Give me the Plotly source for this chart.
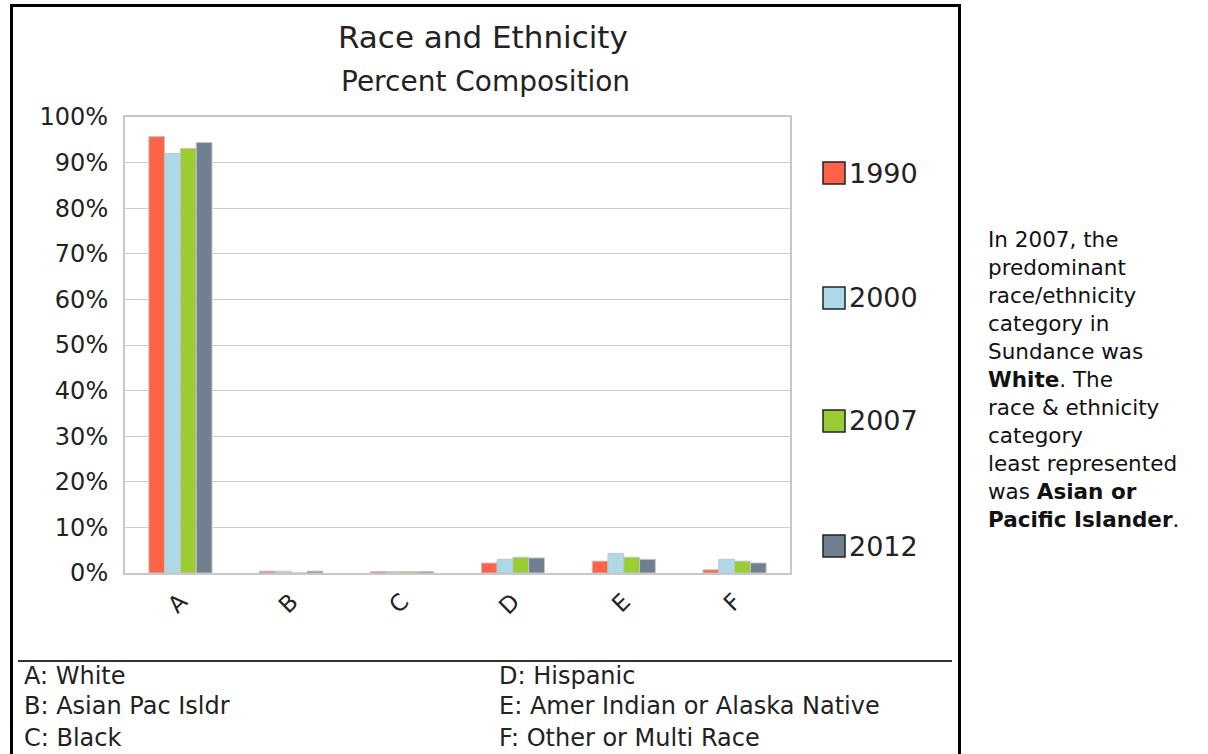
import plotly.graph_objects as go

# Category codes and their full names
categories = ["A", "B", "C", "D", "E", "F"]
category_names = [
    "White",
    "Asian Pac Isldr",
    "Black",
    "Hispanic",
    "Amer Indian or Alaska Native",
    "Other or Multi Race",
]

# Percent composition by year
years = ["1990", "2000", "2007", "2012"]
pct_1990 = [95.7, 0.4, 0.3, 2.2, 2.6, 0.7]
pct_2000 = [92.0, 0.4, 0.3, 3.0, 4.3, 3.0]
pct_2007 = [93.1, 0.0, 0.3, 3.45, 3.45, 2.6]
pct_2012 = [94.4, 0.4, 0.3, 3.3, 3.0, 2.2]
series = [pct_1990, pct_2000, pct_2007, pct_2012]
colors = ["#FF6347", "#ADD8E6", "#9ACD32", "#708090"]

y_ticks = list(range(0, 101, 10))
y_tick_text = [f"{t}%" for t in y_ticks]

W, H = 1208, 754
FONT = "DejaVu Sans"


def px_x(x):
    return x / W


def px_y(y):
    return 1 - y / H


fig = go.Figure()
for name, vals, col in zip(years, series, colors):
    fig.add_trace(go.Bar(
        x=categories, y=vals, name=name,
        marker=dict(color=col, line=dict(color="#c4c4c4", width=1)),
        showlegend=False,
    ))

shapes = []
annotations = []

# Outer frame and divider above the category key
shapes.append(dict(type="rect", xref="paper", yref="paper",
                   x0=px_x(11.5), x1=px_x(959.5), y0=px_y(760), y1=px_y(5.5),
                   line=dict(color="black", width=3)))
shapes.append(dict(type="line", xref="paper", yref="paper",
                   x0=px_x(18), x1=px_x(952), y0=px_y(661), y1=px_y(661),
                   line=dict(color="#333333", width=2)))

# Legend: swatch + year label
legend_y = [173, 298, 421, 546]
for name, col, ly in zip(years, colors, legend_y):
    shapes.append(dict(type="rect", xref="paper", yref="paper",
                       x0=px_x(823), x1=px_x(845), y0=px_y(ly + 11), y1=px_y(ly - 11),
                       fillcolor=col, line=dict(color="#222222", width=1.5)))
    annotations.append(dict(xref="paper", yref="paper", x=px_x(847), y=px_y(ly),
                            xanchor="left", yanchor="middle", showarrow=False,
                            text=name, font=dict(family=FONT, size=27, color="#222222")))

# Titles
annotations.append(dict(xref="paper", yref="paper", x=px_x(483), y=px_y(37),
                        xanchor="center", yanchor="middle", showarrow=False,
                        text="Race and Ethnicity",
                        font=dict(family=FONT, size=31, color="#222222")))
annotations.append(dict(xref="paper", yref="paper", x=px_x(485), y=px_y(82),
                        xanchor="center", yanchor="middle", showarrow=False,
                        text="Percent Composition",
                        font=dict(family=FONT, size=28, color="#222222")))

# Category key below the chart
key_rows = [676, 706, 738]
for i, (code, full) in enumerate(zip(categories, category_names)):
    col_x = 22 if i < 3 else 497
    row_y = key_rows[i % 3]
    annotations.append(dict(xref="paper", yref="paper", x=px_x(col_x), y=px_y(row_y),
                            xanchor="left", yanchor="middle", showarrow=False,
                            text=f"{code}: {full}",
                            font=dict(family=FONT, size=24, color="#222222")))

# Summary note on the right
note = ("In 2007, the<br>predominant<br>race/ethnicity<br>category in<br>"
        "Sundance was<br><b>White</b>. The<br>race &amp; ethnicity<br>category<br>"
        "least represented<br>was <b>Asian or<br>Pacific Islander</b>.")
annotations.append(dict(xref="paper", yref="paper", x=px_x(986), y=px_y(225),
                        xanchor="left", yanchor="top", showarrow=False, align="left",
                        text=note, font=dict(family=FONT, size=21.5, color="#111111")))

fig.update_layout(
    width=W, height=H,
    margin=dict(l=0, r=0, t=0, b=0, pad=0),
    paper_bgcolor="white", plot_bgcolor="white",
    barmode="group", bargap=0.43, bargroupgap=0,
    shapes=shapes, annotations=annotations,
    font=dict(family=FONT, color="#222222"),
    xaxis=dict(
        domain=[px_x(125), px_x(790)], automargin=False,
        showgrid=False, showline=True, mirror=True, linecolor="#c8c8c8", linewidth=2,
        tickangle=-45, tickfont=dict(family=FONT, size=23, color="#222222"),
        ticks="", ticklen=0, ticklabelstandoff=4,
    ),
    yaxis=dict(
        domain=[px_y(573), px_y(117)], automargin=False,
        range=[0, 100], tickvals=y_ticks, ticktext=y_tick_text,
        showgrid=True, gridcolor="#cccccc", gridwidth=1,
        showline=True, mirror=True, linecolor="#c8c8c8", linewidth=2,
        zeroline=False, ticks="", ticklen=0, ticklabelstandoff=10,
        tickfont=dict(family=FONT, size=24, color="#222222"),
    ),
)

fig.write_html("out.html", config={"displayModeBar": False})
